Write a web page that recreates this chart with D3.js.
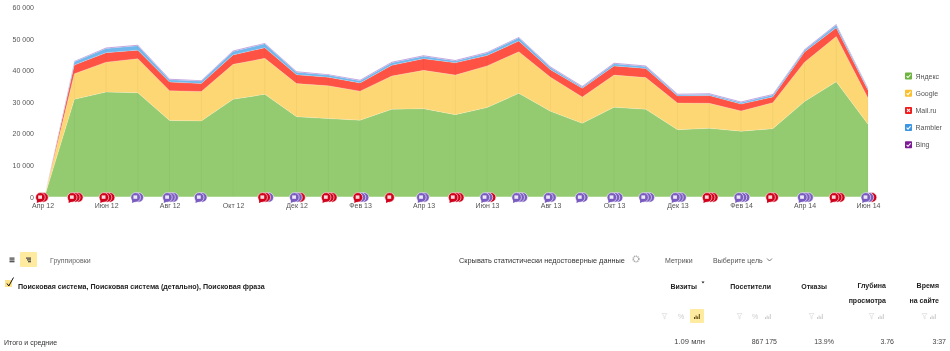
<!DOCTYPE html>
<html><head><meta charset="utf-8">
<script src="https://cdn.jsdelivr.net/npm/d3@7"></script>
<style>
html,body{margin:0;padding:0;background:#fff}
svg{display:block;font-family:"Liberation Sans",Arial,sans-serif;filter:blur(.35px)}
</style></head><body>
<svg id="c" width="950" height="351"></svg>
<script>
const monthIndex=[0.06,1,2,3,4,5,6,7,8,9,10,11,12,13,14,15,16,17,18,19,20,21,22,23,24,25,26];
const seriesNames=["Яндекс","Google","Mail.ru","Rambler","Bing"];
const yandex=[0,30900,33200,33000,24200,24050,30900,32500,25400,24800,24300,27750,27950,26050,28300,32800,27100,23300,28400,27750,21300,21700,20800,21600,30200,36500,23000];
const google=[0,8100,9500,10800,9450,9350,11100,11400,10500,10400,9200,10550,12150,12550,13200,13200,10800,8350,10200,10050,8450,7950,6400,8250,12500,14350,8300];
const mailru=[0,2800,3000,2700,2750,2500,3000,3350,2800,2700,2600,3400,3700,3900,3300,3400,2400,2750,2900,2900,2250,2450,2200,1800,3200,2750,2500];
const rambler=[0,1000,1350,1400,700,800,1100,1250,800,700,700,800,800,600,800,1000,700,400,700,600,400,400,500,650,600,900,500];
const bing=[0,300,300,300,300,300,300,300,300,300,300,300,300,300,300,300,300,300,300,300,300,300,300,300,300,300,300];
const yTicks=[0,10000,20000,30000,40000,50000,60000];
const xTickIndex=[0,2,4,6,8,10,12,14,16,18,20,22,24,26];
const xTickLabels=["Апр 12","Июн 12","Авг 12","Окт 12","Дек 12","Фев 13","Апр 13","Июн 13","Авг 13","Окт 13","Дек 13","Фев 14","Апр 14","Июн 14"];
// note stacks per month, front first: r = red, p = purple
const noteStacks=["rr","rrr","rrr","pp","ppp","pp","","rrp","ppr","rrr","rpp","r","pp","rrr","ppr","ppp","pp","pp","ppp","ppp","ppp","rrr","ppp","rr","ppp","rrr","ppr"];
const tableMetrics=["Визиты","Посетители","Отказы"];
const tableTotals=["1.09 млн","867 175","13.9%","3.76","3:37"];

const fills=["#94cb71","#fcd773","#fe5244","#70b8ec","#b58fd8"];
const swatches=["#6db33f","#fbc02d","#f01c1c","#3b97e3","#7d1a96"];
const svg=d3.select("#c");
const x=d3.scaleLinear().domain([0,26]).range([42.6,868]);
const y=d3.scaleLinear().domain([0,60000]).range([196.8,7.6]);
const TXT="#555";

const rows=monthIndex.map((m,i)=>({m,"Яндекс":yandex[i],"Google":google[i],"Mail.ru":mailru[i],"Rambler":rambler[i],"Bing":bing[i]}));
const stacked=d3.stack().keys(seriesNames)(rows);
const area=d3.area().x(d=>x(d.data.m)).y0(d=>y(d[0])).y1(d=>y(d[1]));
svg.append("g").selectAll("path").data(stacked).join("path").attr("d",area).attr("fill",(d,i)=>fills[i]);
// light edge on top of each band
const topLine=d3.line().x(d=>x(d.data.m)).y(d=>y(d[1]));
svg.append("g").selectAll("path").data(stacked).join("path").attr("d",topLine).attr("fill","none")
  .attr("stroke","rgba(255,255,255,.35)").attr("stroke-width",.6);
// faint month grid
svg.append("g").selectAll("line").data(monthIndex.slice(1)).join("line")
  .attr("x1",d=>x(d)).attr("x2",d=>x(d)).attr("y1",(d,i)=>y(d3.sum(seriesNames,k=>rows[i+1][k]))).attr("y2",y(0))
  .attr("stroke","rgba(0,0,0,.035)");

// axes
const fmt=v=>v===0?"0":d3.format(",")(v).replace(/,/g," ");
const yAxis=svg.append("g").attr("transform","translate(34,0)").call(d3.axisLeft(y).tickValues(yTicks).tickFormat(fmt).tickSize(0).tickPadding(0));
yAxis.select(".domain").remove();
yAxis.selectAll("text").attr("font-size",7).attr("fill",TXT).attr("font-family","inherit");
const xAxis=svg.append("g").attr("transform","translate(0,203)").call(d3.axisBottom(x).tickValues(xTickIndex).tickFormat((d,i)=>xTickLabels[i]).tickSize(0).tickPadding(0));
xAxis.select(".domain").remove();
xAxis.selectAll("text").attr("font-size",7).attr("fill",TXT).attr("font-family","inherit");

// note bubbles
const noteCol={r:"#d0021b",p:"#7a5cc0"};
const notes=svg.append("g");
noteStacks.forEach((s,i)=>{
  const cx=x(i)-2.2, cy=197.4;
  s.split("").map((c,j)=>[c,j]).reverse().forEach(([c,j])=>{
    const g=notes.append("g").attr("transform",`translate(${cx+j*3.1},${cy})`);
    g.append("circle").attr("r",4.8).attr("fill",noteCol[c]).attr("stroke","#fff").attr("stroke-width",.6);
    if(j===0){
      g.append("path").attr("d","M-3.4,2 L-3.6,5.6 L0,4Z").attr("fill",noteCol[c]);
      g.append("rect").attr("x",-2.2).attr("y",-2).attr("width",3.8).attr("height",3.4).attr("fill","#fff").attr("opacity",.85);
    }
  });
});

// legend
const leg=svg.append("g").selectAll("g").data(seriesNames).join("g")
  .attr("transform",(d,i)=>`translate(905,${72.5+i*17.2})`);
leg.append("rect").attr("width",7).attr("height",7).attr("rx",.8).attr("fill",(d,i)=>swatches[i]);
leg.append("path").attr("d",(d,i)=>i===2?"M2,2L5,5M5,2L2,5":"M1.6,3.6L3,5L5.6,2").attr("fill","none").attr("stroke","#fff").attr("stroke-width",1.1);
leg.append("text").attr("x",10.5).attr("y",6.2).attr("font-size",7).attr("fill",TXT).text(d=>d);

// table chrome
function t(px,py,s,o={}){return svg.append("text").attr("x",px).attr("y",py).attr("font-size",o.size||7)
  .attr("font-weight",o.bold?"bold":null).attr("text-anchor",o.anchor||"start").attr("fill",o.fill||"#333").text(s);}
svg.append("rect").attr("x",20).attr("y",252).attr("width",17).attr("height",15).attr("rx",1).attr("fill","#ffeba0");
svg.append("g").selectAll("rect").data([0,1,2]).join("rect").attr("x",9.5).attr("y",d=>257.5+d*1.8).attr("width",5).attr("height",1.2).attr("fill","#444");
svg.append("g").selectAll("rect").data([0,1,2]).join("rect").attr("x",(d)=>26+d).attr("y",d=>257.5+d*1.8).attr("width",d=>5-d).attr("height",1.2).attr("fill","#444");
t(50,262.5,"Группировки",{fill:"#666"});
svg.append("rect").attr("x",5).attr("y",280).attr("width",7).attr("height",7).attr("fill","#ffe38a");
svg.append("path").attr("d","M7,283.5L8.8,286L13.5,277.5").attr("fill","none").attr("stroke","#111").attr("stroke-width",1);
t(18,288.5,"Поисковая система, Поисковая система (детально), Поисковая фраза",{bold:true,fill:"#222",size:7.1});
t(4,344.5,"Итого и средние");
t(459,262.5,"Скрывать статистически недостоверные данные",{fill:"#333",size:7.35});
svg.append("circle").attr("cx",636).attr("cy",259).attr("r",2.8).attr("fill","none").attr("stroke","#aaa").attr("stroke-width",1.6).attr("stroke-dasharray","1.2 .6");
t(665,262.5,"Метрики",{fill:"#555"});
t(713,262.5,"Выберите цель",{fill:"#555"});
svg.append("path").attr("d","M767,258.5L769.5,261L772,258.5").attr("fill","none").attr("stroke","#555").attr("stroke-width",.8);

// column headers
t(697,288.5,tableMetrics[0],{bold:true,anchor:"end",fill:"#222"});
svg.append("path").attr("d","M701.5,281.5h3l-1.5,2z").attr("fill","#222");
t(771,288.5,tableMetrics[1],{bold:true,anchor:"end",fill:"#222"});
t(827,288.5,tableMetrics[2],{bold:true,anchor:"end",fill:"#222"});
t(886,287.5,"Глубина",{bold:true,anchor:"end",fill:"#222"});
t(886,302.5,"просмотра",{bold:true,anchor:"end",fill:"#222"});
t(939,287.5,"Время",{bold:true,anchor:"end",fill:"#222"});
t(939,302.5,"на сайте",{bold:true,anchor:"end",fill:"#222"});
// column totals
[705,777,834,894,946].forEach((px,i)=>t(px,344,tableTotals[i],{anchor:"end",fill:"#444",size:i===0?7.6:7}));

// column tool icons
svg.append("rect").attr("x",690).attr("y",309).attr("width",14).attr("height",14).attr("rx",1).attr("fill","#ffeba0");
const bars=(px,c)=>[2,3.5,2.5,5].forEach((h,i)=>svg.append("rect").attr("x",px+i*1.6).attr("y",319-h).attr("width",1).attr("height",h).attr("fill",c));
const funnel=px=>svg.append("path").attr("d",`M${px},313.5h5l-2,2.5v3l-1,-.6v-2.4z`).attr("fill","none").attr("stroke","#ddd").attr("stroke-width",.7);
[662,737,809,869,922].forEach(funnel);
t(678,319,"%",{fill:"#ccc"});t(752,319,"%",{fill:"#ccc"});
bars(694,"#5a4a10");[765,817,878,930].forEach(px=>bars(px,"#ccc"));
</script></body></html>
